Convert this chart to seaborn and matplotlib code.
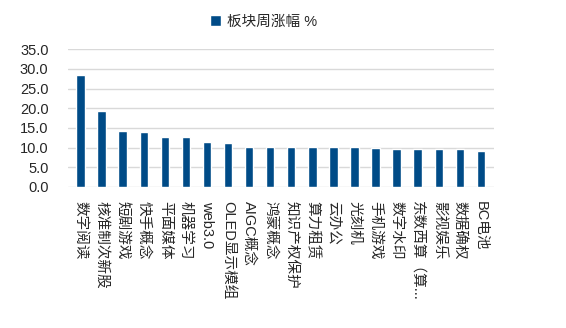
import matplotlib
matplotlib.use("Agg")
import matplotlib.pyplot as plt
import seaborn as sns
import pandas as pd

categories = ["数字阅读", "核准制次新股", "短剧游戏", "快手概念", "平面媒体", "机器学习", "web3.0",
              "OLED显示模组", "AIGC概念", "鸿蒙概念", "知识产权保护", "算力租赁", "云办公", "光刻机",
              "手机游戏", "数字水印", "东数西算（算...", "影视娱乐", "数据确权", "BC电池"]
values = [28.4, 19.2, 14.2, 14.0, 12.7, 12.7, 11.4, 11.2, 10.2, 10.2,
          10.2, 10.1, 10.1, 10.1, 9.9, 9.75, 9.75, 9.6, 9.6, 9.25]
series_name = "板块周涨幅 %"
yticks = [0, 5, 10, 15, 20, 25, 30, 35]

sns.set_theme(style="white")
plt.rcParams['font.family'] = ['Liberation Sans', 'Noto Sans CJK SC', 'DejaVu Sans']

df = pd.DataFrame({"板块": categories, series_name: values})

fig = plt.figure(figsize=(5.66, 3.28), dpi=100)
ax = fig.add_axes([0.12, 0.43, 0.752, 0.42])
color = "#004B87"
sns.barplot(data=df, x="板块", y=series_name, color=color, width=0.4, ax=ax,
            saturation=1, label=series_name)

ax.set_ylim(0, 35)
ax.set_yticks(yticks)
ax.set_yticklabels([f"{v:.1f}" for v in yticks], fontsize=10.5)
ax.set_xlim(-0.6, len(categories) - 0.4)
ax.yaxis.grid(True, color="#d9d9d9", linewidth=1)
ax.set_axisbelow(True)
for s in ax.spines.values():
    s.set_visible(False)
ax.tick_params(axis="y", length=0, pad=14)
ax.tick_params(axis="x", length=0, pad=10)
ax.set_xticks(range(len(categories)))
ax.set_xticklabels(categories, rotation=270, fontsize=10.5, ha="center", va="top",
                   rotation_mode="default")
ax.set_xlabel("")
ax.set_ylabel("")
leg = ax.legend(loc="upper center", bbox_to_anchor=(0.465, 0.995), bbox_transform=fig.transFigure,
                frameon=False, fontsize=10.5, handlelength=0.75, handleheight=0.75, handletextpad=0.4)

fig.savefig("out.png", dpi=100)
